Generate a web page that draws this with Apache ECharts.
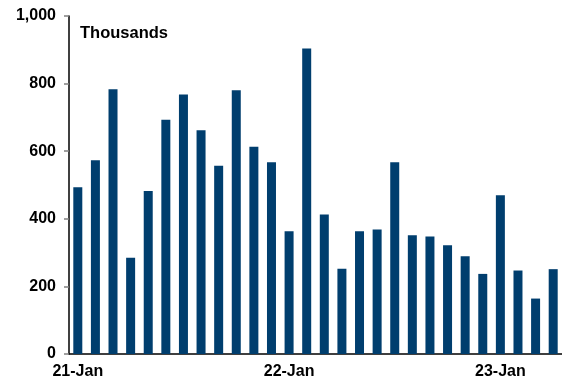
<!DOCTYPE html>
<html>
<head>
<meta charset="utf-8">
<script src="https://cdn.jsdelivr.net/npm/echarts@6/dist/echarts.min.js"></script>
<style>
html,body{margin:0;padding:0;background:#fff;}
#chart{width:562px;height:384px;}
</style>
</head>
<body>
<div id="chart"></div>
<script>
// monthly values, Jan 2021 - Apr 2023 (thousands)
var months = ['21-Jan','21-Feb','21-Mar','21-Apr','21-May','21-Jun','21-Jul','21-Aug','21-Sep','21-Oct','21-Nov','21-Dec',
	'22-Jan','22-Feb','22-Mar','22-Apr','22-May','22-Jun','22-Jul','22-Aug','22-Sep','22-Oct','22-Nov','22-Dec',
	'23-Jan','23-Feb','23-Mar','23-Apr'];
var values = [493,573,783,285,482,693,768,662,557,780,613,567,
	363,904,413,252,363,368,567,351,348,322,289,237,
	470,247,164,251];
var yTicks = [0,200,400,600,800,1000];

var chart = echarts.init(document.getElementById('chart'));
var font = 'Liberation Sans, Arial, sans-serif';

chart.setOption({
	animation:false,
	grid:{left:69,right:-2,top:16,bottom:30},
	graphic:[{
		type:'text',left:80,top:25,
		style:{text:'Thousands',font:'bold 16.5px ' + font,fill:'#000'}
	}],
	xAxis:{
		type:'category',
		data:months,
		axisLine:{lineStyle:{color:'#000',width:1.5}},
		axisTick:{interval:11,length:5,lineStyle:{color:'#808080',width:1.5}},
		axisLabel:{interval:11,margin:10,color:'#000',fontWeight:'bold',fontSize:16,fontFamily:font,
			formatter:function(v){ return v.slice(-3) == 'Jan' ? v : ''; }}
	},
	yAxis:{
		type:'value',
		min:yTicks[0],max:yTicks[yTicks.length-1],interval:200,
		splitLine:{show:false},
		axisLine:{show:true,lineStyle:{color:'#000',width:1.5}},
		axisTick:{show:true,length:5,lineStyle:{color:'#808080',width:1.5}},
		axisLabel:{margin:13,color:'#000',fontWeight:'bold',fontSize:16,fontFamily:font,
			formatter:function(v){ return v.toLocaleString('en-US'); }}
	},
	series:[{
		type:'bar',
		data:values,
		barWidth:9,
		itemStyle:{color:'#003e6e'}
	}]
});
</script>
</body>
</html>
